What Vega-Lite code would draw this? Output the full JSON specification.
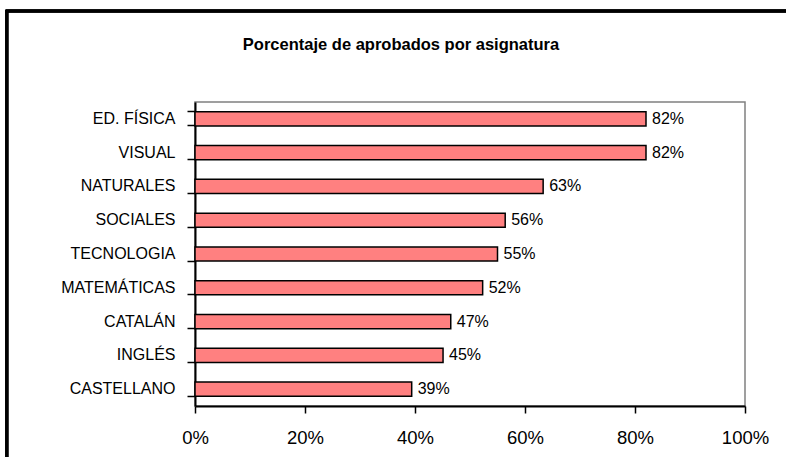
{
  "$schema": "https://vega.github.io/schema/vega-lite/v6.json",
  "autosize": "none",
  "width": 550,
  "height": 304,
  "padding": {"left": 195, "top": 102, "right": 41, "bottom": 51},
  "background": "white",
  "config": {
    "view": {"stroke": "#808080", "strokeWidth": 1.5},
    "font": "Liberation Sans"
  },
  "title": {
    "text": "Porcentaje de aprobados por asignatura",
    "font": "Liberation Sans",
    "fontSize": 16.5,
    "fontWeight": "bold",
    "color": "black",
    "anchor": "middle",
    "frame": "group",
    "baseline": "alphabetic",
    "dx": -69,
    "offset": -57
  },
  "data": {
    "values": [
      {"asignatura": "ED. FÍSICA", "aprobados": 0.82},
      {"asignatura": "VISUAL", "aprobados": 0.82},
      {"asignatura": "NATURALES", "aprobados": 0.633},
      {"asignatura": "SOCIALES", "aprobados": 0.564},
      {"asignatura": "TECNOLOGIA", "aprobados": 0.55},
      {"asignatura": "MATEMÁTICAS", "aprobados": 0.523},
      {"asignatura": "CATALÁN", "aprobados": 0.465},
      {"asignatura": "INGLÉS", "aprobados": 0.451},
      {"asignatura": "CASTELLANO", "aprobados": 0.394}
    ]
  },
  "layer": [
    {
      "mark": {"type": "rect", "fill": null, "stroke": "black", "strokeWidth": 2.5, "clip": false},
      "encoding": {
        "x": {"datum": -0.342, "type": "quantitative", "scale": {"domain": [0, 1]}, "axis": null},
        "x2": {"datum": 1.2},
        "y": {"datum": 1.299, "type": "quantitative", "scale": {"domain": [0, 1]}, "axis": null},
        "y2": {"datum": -0.3}
      }
    },
    {
      "encoding": {
        "x": {
          "field": "aprobados",
          "type": "quantitative",
          "scale": {"domain": [0, 1]},
          "axis": {
            "title": null,
            "values": [0, 0.2, 0.4, 0.6, 0.8, 1],
            "format": ".0%",
            "grid": false,
            "tickSize": 7,
            "tickColor": "black",
            "tickWidth": 1.5,
            "domainColor": "black",
            "domainWidth": 2,
            "labelFont": "Liberation Sans",
            "labelFontSize": 18.5,
            "labelColor": "black",
            "labelPadding": 15,
            "labelFlush": false
          }
        }
      },
      "layer": [
        {
          "mark": {"type": "bar", "fill": "#FF8080", "stroke": "black", "strokeWidth": 1.5},
          "encoding": {
            "y": {
              "field": "asignatura",
              "type": "nominal",
              "sort": null,
              "scale": {"type": "band", "paddingInner": 0.58, "paddingOuter": 0.29},
              "axis": {
                "orient": "left",
                "title": null,
                "ticks": false,
                "domainColor": "black",
                "domainWidth": 2,
                "labelFont": "Liberation Sans",
                "labelFontSize": 16,
                "labelColor": "black",
                "labelPadding": 20
              }
            }
          }
        },
        {
          "mark": {"type": "text", "align": "left", "baseline": "middle", "dx": 6, "fontSize": 16, "color": "black", "font": "Liberation Sans"},
          "encoding": {
            "y": {
              "field": "asignatura",
              "type": "nominal",
              "sort": null,
              "axis": {
                "orient": "left",
                "title": null,
                "labels": false,
                "domain": false,
                "bandPosition": 1,
                "tickExtra": true,
                "tickSize": 8,
                "tickColor": "black",
                "tickWidth": 1.5
              }
            },
            "text": {"field": "aprobados", "type": "quantitative", "format": ".0%"}
          }
        }
      ],
      "resolve": {"axis": {"y": "independent"}}
    }
  ],
  "resolve": {"scale": {"x": "independent", "y": "independent"}, "axis": {"x": "independent", "y": "independent"}}
}
